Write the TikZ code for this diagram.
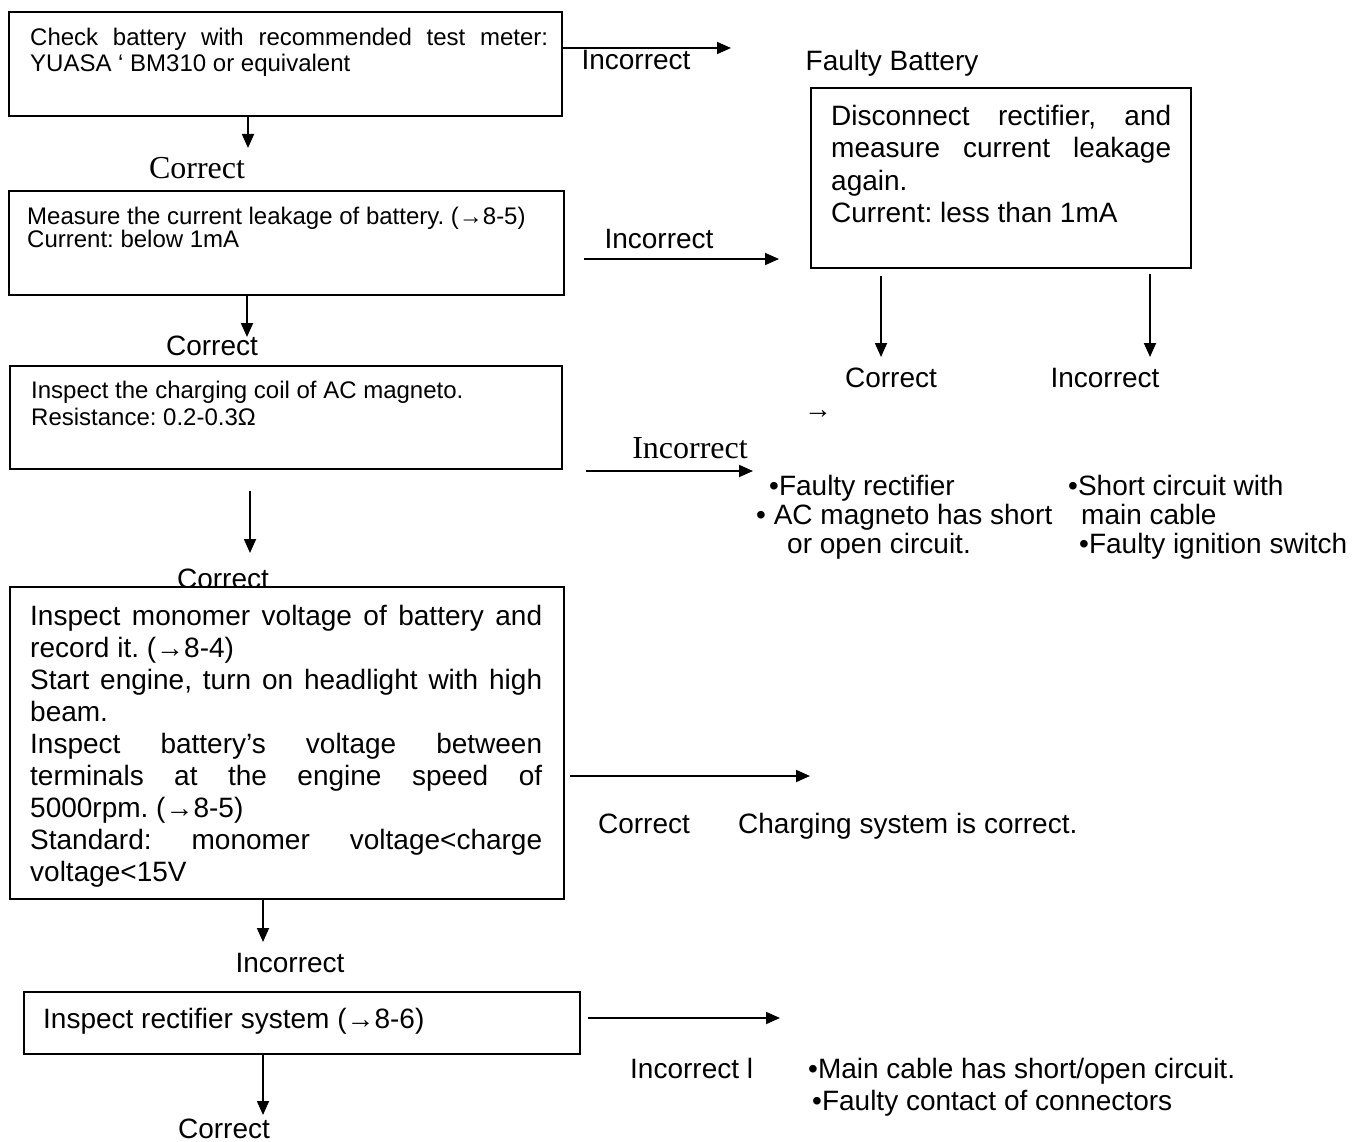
\documentclass[tikz,border=0pt]{standalone}
\usepackage{fontspec}
\setmainfont{Liberation Sans}
\newfontfamily\timesfont{Liberation Serif}
\usetikzlibrary{arrows.meta}
\tikzset{
  box/.style={draw=black,line width=2pt,fill=white,anchor=north west,inner sep=0pt},
  boxtext/.style={anchor=north west,inner sep=0pt,align=justify,text=black},
  lbl/.style={anchor=base,inner sep=0pt,font=\fontsize{28}{32}\selectfont},
  serlbl/.style={anchor=base,inner sep=0pt,font=\timesfont\fontsize{32}{36}\selectfont},
  note/.style={anchor=north west,inner sep=0pt,align=left,font=\fontsize{28}{29}\selectfont},
  flow/.style={-{Triangle[length=14pt,width=12pt]},line width=1.8pt},
}

\begin{document}
\frenchspacing
\begin{tikzpicture}[x=1pt,y=-1pt]
  \useasboundingbox (0,0) rectangle (1352,1142);

  \node[box,minimum width=553pt,minimum height=104pt] (check) at (8,11) {};
  \node[boxtext,text width=518pt,font=\fontsize{24}{26}\selectfont] (checktext) at (30,28)
    {Check battery with recommended test meter:\linebreak YUASA ‘ BM310 or equivalent};

  \node[box,minimum width=555pt,minimum height=104pt] (leak) at (8,190) {};
  \node[boxtext,text width=530pt,font=\fontsize{24}{22}\selectfont] (leaktext) at (27,207)
    {Measure the current leakage of battery. (→8-5)\\Current: below 1mA};

  \node[box,minimum width=552pt,minimum height=103pt] (coil) at (9,365) {};
  \node[boxtext,text width=525pt,font=\fontsize{24}{27}\selectfont] (coiltext) at (31,381)
    {Inspect the charging coil of AC magneto.\\Resistance: 0.2-0.3Ω};

  \node[serlbl] (ok1) at (197,178.6) {Correct};
  \node[lbl] (ok2) at (212,355) {Correct};
  \node[lbl] (ok3) at (223,588) {Correct};

  \node[box,minimum width=554pt,minimum height=312pt] (volt) at (9,586) {};
  \node[boxtext,text width=512pt,font=\fontsize{28}{32}\selectfont] (volttext) at (30,605)
    {Inspect monomer voltage of battery and\linebreak record it. (→8-4)\\
     Start engine, turn on headlight with high\linebreak beam.\\
     Inspect battery’s voltage between\linebreak terminals at the engine speed of\linebreak 5000rpm. (→8-5)\\
     Standard: monomer voltage<charge\linebreak voltage<15V};

  \node[box,minimum width=556pt,minimum height=62pt] (rect) at (23,991) {};
  \node[lbl,anchor=base west] (recttext) at (43,1028) {Inspect rectifier system (→8-6)};

  \node[box,minimum width=380pt,minimum height=180pt] (disc) at (810,87) {};
  \node[boxtext,text width=340pt,font=\fontsize{28}{32.5}\selectfont] (disctext) at (831,104.6)
    {Disconnect rectifier, and\linebreak measure current leakage\linebreak again.\\Current: less than 1mA};

  \node[lbl] (bad1) at (636,70) {Incorrect};
  \node[lbl] (faulty) at (892,71) {Faulty Battery};
  \node[lbl] (bad2) at (659,248) {Incorrect};
  \node[lbl] (ok4) at (891,387) {Correct};
  \node[lbl] (bad4) at (1105,387) {Incorrect};
  \node[serlbl,font=\timesfont\fontsize{28}{32}\selectfont] (arr) at (818,418) {→};
  \node[serlbl] (bad3) at (690,458.6) {Incorrect};
  \node[note] (causes1) at (756,474.6)
    {\hspace*{13pt}•Faulty rectifier\\• AC magneto has short\\\hspace*{31pt}or open circuit.};
  \node[note] (causes2) at (1068,474.6)
    {•Short circuit with\\\hspace*{13pt}main cable\\\hspace*{11pt}•Faulty ignition switch};
  \node[lbl] (ok5) at (644,833) {Correct};
  \node[lbl,anchor=base west] (fine) at (738,833) {Charging system is correct.};
  \node[lbl] (bad5) at (290,972) {Incorrect};
  \node[lbl,anchor=base west] (bad6) at (630,1078) {Incorrect l};
  \node[note,font=\fontsize{28}{32}\selectfont] (causes3) at (808,1057.6)
    {•Main cable has short/open circuit.\\\hspace*{4pt}•Faulty contact of connectors};
  \node[lbl] (ok6) at (224,1138) {Correct};

  \coordinate (a1) at (731,48);
  \coordinate (c1) at (248,148);
  \coordinate (i2s) at (584,259);
  \coordinate (i2) at (779,259);
  \coordinate (c2) at (247,337);
  \coordinate (d1s) at (881,276);
  \coordinate (d1) at (881,357);
  \coordinate (d2s) at (1150,274);
  \coordinate (d2) at (1150,357);
  \coordinate (i3s) at (586,471);
  \coordinate (i3) at (753,471);
  \coordinate (c3s) at (250,491);
  \coordinate (c3) at (250,553);
  \coordinate (k4s) at (570,776);
  \coordinate (k4) at (810,776);
  \coordinate (i4) at (263,942);
  \coordinate (i5s) at (588,1018);
  \coordinate (i5) at (780,1018);
  \coordinate (c5) at (263,1115);

  \draw[flow] (check.east |- a1) -- (a1);
  \draw[flow] (check.south -| c1) -- (c1);
  \draw[flow] (i2s) -- (i2);
  \draw[flow] (leak.south -| c2) -- (c2);
  \draw[flow] (d1s) -- (d1);
  \draw[flow] (d2s) -- (d2);
  \draw[flow] (i3s) -- (i3);
  \draw[flow] (c3s) -- (c3);
  \draw[flow] (k4s) -- (k4);
  \draw[flow] (volt.south -| i4) -- (i4);
  \draw[flow] (i5s) -- (i5);
  \draw[flow] (rect.south -| c5) -- (c5);
\end{tikzpicture}
\end{document}
